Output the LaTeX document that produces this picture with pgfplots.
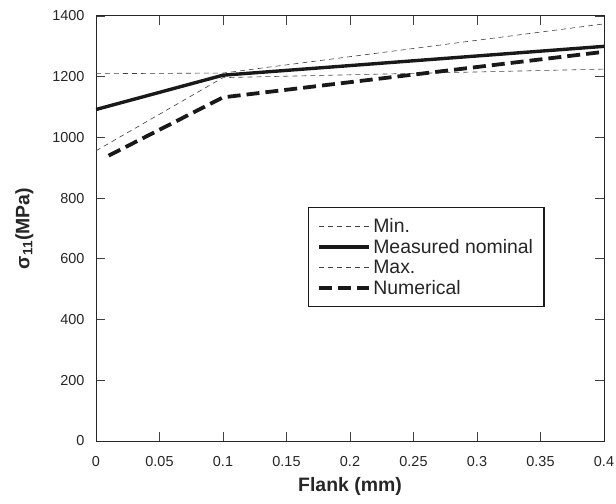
\documentclass[border=0pt]{standalone}
\usepackage{pgfplots}
\pgfplotsset{compat=1.18}
\usepackage{fontspec}
\setmainfont{Liberation Sans}
\begin{document}
\begin{tikzpicture}
\useasboundingbox (-96bp,-63bp) rectangle (520bp,441bp);
\begin{axis}[
  at={(0,0)}, anchor=south west,
  scale only axis,
  width=508bp, height=425bp,
  xmin=0, xmax=0.4, ymin=0, ymax=1400,
  xtick={0,0.05,0.1,0.15,0.2,0.25,0.3,0.35,0.4},
  xticklabels={0,0.05,0.1,0.15,0.2,0.25,0.3,0.35,0.4},
  ytick={0,200,400,600,800,1000,1200,1400},
  yticklabels={0,200,400,600,800,1000,1200,1400},
  xtick pos=both, ytick pos=both,
  xtick align=outside, ytick align=outside,
  xtick style={draw=black!75, line width=0.9pt},
  ytick style={draw=black!75, line width=0.9pt},
  major tick length=-9bp,
  axis line style={black!85, line width=1pt},
  tick label style={font=\fontsize{14.5}{17}\selectfont, text=black!85},
  xticklabel style={yshift=-21bp},
  yticklabel style={xshift=-17bp},
  xlabel={Flank (mm)},
  ylabel={σ\textsubscript{11}(MPa)},
  label style={font=\fontsize{19.5}{22}\selectfont\bfseries, text=black!85},
  xlabel style={at={(axis description cs:0.5,-0.108)}, anchor=center},
  ylabel style={at={(axis description cs:-0.141,0.5)}, anchor=center},
  legend style={at={(rel axis cs:0.417,0.551)}, anchor=north west,
    draw=black!90, line width=1.3pt, font=\fontsize{19.5}{21}\selectfont,
    text=black!85,
    row sep=1.2bp, inner xsep=9bp, inner ysep=9bp},
  legend cell align=left,
  legend image code/.code={\draw[#1] (0bp,0bp) -- (50bp,0bp);},
]
\addplot[black!75, line width=0.6pt, dash pattern=on 5bp off 4bp] coordinates {(0,956) (0.1,1197) (0.4,1225)};
\addlegendentry{Min.}
\addplot[black!90, line width=3.4pt] coordinates {(0,1092) (0.1,1205) (0.4,1300)};
\addlegendentry{Measured nominal}
\addplot[black!75, line width=0.6pt, dash pattern=on 5bp off 4bp] coordinates {(0,1210) (0.1,1212) (0.4,1374)};
\addlegendentry{Max.}
\addplot[black!90, line width=3.8pt, dash pattern=on 13bp off 6bp] coordinates {(0.01,940) (0.1,1132) (0.4,1282)};
\addlegendentry{Numerical}
\end{axis}
\end{tikzpicture}
\end{document}
